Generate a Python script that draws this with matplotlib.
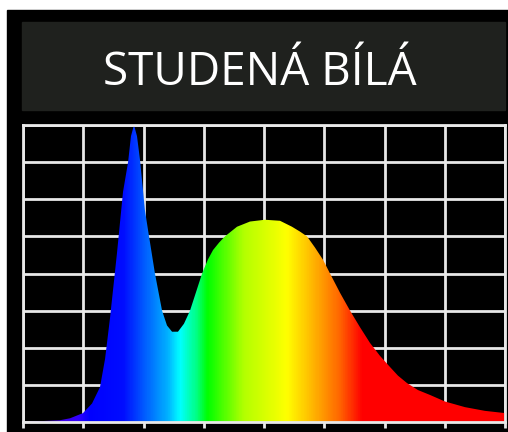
import numpy as np
import matplotlib.pyplot as plt
from matplotlib.colors import LinearSegmentedColormap
from matplotlib.patches import Rectangle

# Spectrum of a cool white LED (relative intensity)
wavelengths = [350, 380.7, 389.0, 399.8, 407.3, 413.9, 418.1, 422.2, 428.0, 433.0,
               437.2, 439.6, 442.1, 444.6, 447.1, 451.2, 454.6, 459.5, 465.4, 469.5,
               473.7, 478.6, 483.6, 488.6, 493.6, 498.6, 503.5, 507.7, 512.7, 517.6,
               527.6, 538.4, 550.8, 563.3, 573.2, 579.9, 585.7, 592.3, 599.0, 604.8,
               613.1, 621.4, 629.7, 638.0, 646.3, 654.6, 661.2, 668.7, 677.8, 687.8,
               700.2, 716.8, 733.4, 750]
intensity = [0.0, 0.006, 0.0125, 0.03, 0.0625, 0.1175, 0.2125, 0.35, 0.569, 0.775,
             0.875, 0.9625, 1.0, 0.9625, 0.8825, 0.7125, 0.625, 0.5, 0.375, 0.325,
             0.304, 0.304, 0.331, 0.375, 0.4375, 0.5, 0.5475, 0.579, 0.604, 0.625,
             0.6575, 0.675, 0.681, 0.6775, 0.6575, 0.641, 0.625, 0.5875, 0.546, 0.5,
             0.435, 0.375, 0.319, 0.266, 0.2225, 0.185, 0.156, 0.131, 0.1075, 0.091,
             0.069, 0.05, 0.0375, 0.03]

title = "STUDENÁ BÍLÁ"

# rainbow colours along the wavelength axis
wl_min, wl_max = 350, 750
rainbow = [(350, (0.35, 0.0, 0.7)), (395, (0.2, 0.0, 1.0)), (405, (0.0, 0.0, 1.0)),
           (433, (0.0, 0.05, 1.0)), (447, (0.0, 0.3, 1.0)), (470, (0.0, 0.7, 1.0)),
           (480, (0.0, 1.0, 1.0)), (494, (0.0, 1.0, 0.5)), (503, (0.0, 1.0, 0.0)),
           (533, (0.7, 1.0, 0.0)), (569, (1.0, 1.0, 0.0)), (588, (1.0, 0.75, 0.0)),
           (613, (1.0, 0.4, 0.0)), (632, (1.0, 0.0, 0.0)), (750, (1.0, 0.0, 0.0))]
cmap = LinearSegmentedColormap.from_list(
    "spectrum", [((w - wl_min) / (wl_max - wl_min), c) for w, c in rainbow])

fig = plt.figure(figsize=(5.08, 4.32), dpi=100, facecolor="white")

# black frame and dark title bar
fig.patches.append(Rectangle((7 / 508, 0), 1, 422 / 432, transform=fig.transFigure,
                             color="black", zorder=0))
fig.patches.append(Rectangle((22 / 508, 322 / 432), 483 / 508, 88 / 432,
                             transform=fig.transFigure, color="#1f211e", zorder=1))
fig.text(259.5 / 508, 347 / 432, title, ha="center", va="baseline", color="white",
         fontsize=33, family="Open Sans", zorder=3)

ax = fig.add_axes([23 / 508, 10 / 432, 482 / 508, 297 / 432])
ax.set_zorder(2)
ax.set_facecolor("black")
ax.set_xlim(wl_min, wl_max)
ax.set_ylim(0, 1)
ax.set_xticks(np.arange(wl_min, wl_max + 1, 50))
ax.set_yticks(np.arange(0, 1.01, 0.125))
ax.set_axisbelow(True)
ax.grid(True, color="#e8e8e8", linewidth=2)
ax.tick_params(axis="x", direction="out", length=4.5, width=2, color="#e8e8e8",
               labelbottom=False)
ax.tick_params(axis="y", length=0, labelleft=False)
for sp in ax.spines.values():
    sp.set_color("#e8e8e8")
    sp.set_linewidth(2)
    sp.set_zorder(4)

# filled spectrum coloured by wavelength
fill = ax.fill_between(wavelengths, 0, intensity, facecolor="none", edgecolor="none")
grad = np.linspace(wl_min, wl_max, 800).reshape(1, -1)
im = ax.imshow(grad, extent=[wl_min, wl_max, 0, 1], aspect="auto", cmap=cmap,
               vmin=wl_min, vmax=wl_max, zorder=3, interpolation="bilinear")
im.set_clip_path(fill.get_paths()[0], transform=ax.transData)

fig.savefig("out.png", dpi=100, facecolor=fig.get_facecolor())
